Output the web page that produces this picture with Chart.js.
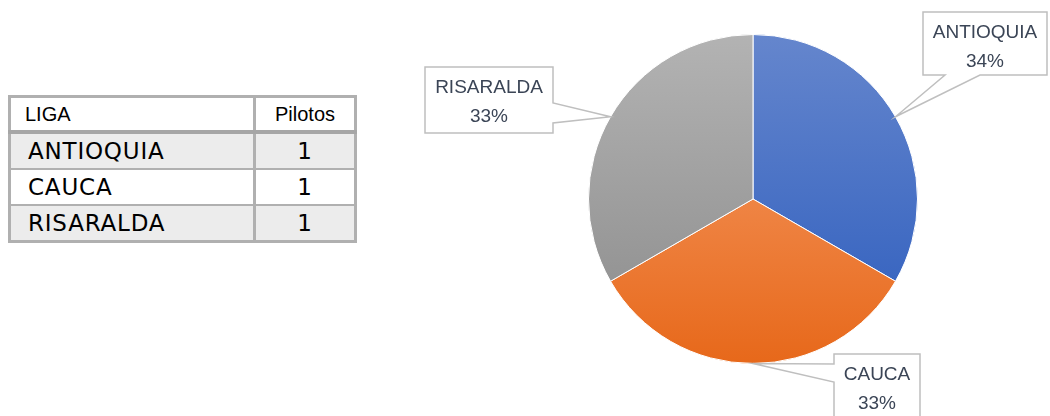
<!DOCTYPE html>
<html>
<head>
<meta charset="utf-8">
<script src="https://cdn.jsdelivr.net/npm/chart.js@4/dist/chart.umd.min.js"></script>
<style>
  html, body { margin: 0; padding: 0; background: #ffffff; }
  #wrap { position: relative; width: 1050px; height: 416px; overflow: hidden; }
  #pie { position: absolute; left: 0; top: 0; }
  #tabla {
    position: absolute; left: 8px; top: 95px;
    border-collapse: collapse; font-family: "DejaVu Sans", sans-serif; color: #000;
    border: 3px solid #b0b0b0;
  }
  #tabla td, #tabla th { border: 2px solid #b0b0b0; padding: 0; }
  #tabla .c1 { border-right: 3px solid #b0b0b0; }
  #tabla th {
    font-family: "Liberation Sans", Arial, sans-serif;
    font-weight: normal; font-size: 20px; height: 32px; background: #fff;
    border-bottom: 4px solid #a6a6a6;
  }
  #tabla th.c1 { text-align: left; padding-left: 14px; width: 228px; }
  #tabla th.c2 { text-align: center; width: 98px; }
  #tabla td { font-size: 23px; letter-spacing: 0.8px; height: 34px; }
  #tabla td.c1 { padding-left: 17px; }
  #tabla td.c2 { text-align: center; }
  #tabla tr.odd td { background: #ececec; }
</style>
</head>
<body>
<div id="wrap">
  <table id="tabla"><thead></thead><tbody></tbody></table>
  <canvas id="pie" width="1050" height="416"></canvas>
</div>
<script>
// Pilotos por liga
const headers = ['LIGA', 'Pilotos'];
const ligas = ['ANTIOQUIA', 'CAUCA', 'RISARALDA'];
const pilotos = [1, 1, 1];
const percentLabels = ['34%', '33%', '33%'];

// gradient stops per slice (top -> bottom of the pie)
const sliceColors = [
  ['#6586cd', '#2c5cbd'],
  ['#f7a16f', '#e7681a'],
  ['#b3b3b3', '#8a8a8a']
];

let pieChart = null;

document.addEventListener('DOMContentLoaded', () => {
  buildTable();
  renderPie();
});

function buildTable() {
  const thead = document.querySelector('#tabla thead');
  const tbody = document.querySelector('#tabla tbody');
  const hr = document.createElement('tr');
  headers.forEach((h, i) => {
    const th = document.createElement('th');
    th.className = i === 0 ? 'c1' : 'c2';
    th.textContent = h;
    hr.appendChild(th);
  });
  thead.appendChild(hr);

  ligas.forEach((liga, i) => {
    const tr = document.createElement('tr');
    if (i % 2 === 0) tr.className = 'odd';
    const a = document.createElement('td');
    a.className = 'c1';
    a.textContent = liga;
    const b = document.createElement('td');
    b.className = 'c2';
    b.textContent = pilotos[i];
    tr.appendChild(a);
    tr.appendChild(b);
    tbody.appendChild(tr);
  });
}

function sliceGradient(context) {
  const chart = context.chart;
  const area = chart.chartArea;
  const stops = sliceColors[context.dataIndex % sliceColors.length];
  if (!area) return stops[0];
  const g = chart.ctx.createLinearGradient(0, area.top, 0, area.bottom);
  g.addColorStop(0, stops[0]);
  g.addColorStop(1, stops[1]);
  return g;
}

// callout boxes (box rect + which side the pointer leaves from)
const calloutLayout = [
  { box: [923, 12, 1047, 75], side: 'bottom', base: [945, 980] },
  { box: [834, 354, 920, 440], side: 'left', base: [364, 382] },
  { box: [425, 67, 553, 133], side: 'right', base: [103, 123] }
];

const calloutPlugin = {
  id: 'callouts',
  afterDatasetsDraw(chart) {
    const ctx = chart.ctx;
    const meta = chart.getDatasetMeta(0);
    meta.data.forEach((arc, i) => {
      const p = arc.getProps(['x', 'y', 'startAngle', 'endAngle', 'outerRadius'], true);
      const mid = (p.startAngle + p.endAngle) / 2;
      const tip = [p.x + Math.cos(mid) * p.outerRadius, p.y + Math.sin(mid) * p.outerRadius];
      const c = calloutLayout[i];
      const [l, t, r, b] = c.box;
      ctx.save();
      ctx.beginPath();
      if (c.side === 'bottom') {
        ctx.moveTo(l, t); ctx.lineTo(r, t); ctx.lineTo(r, b);
        ctx.lineTo(c.base[1], b); ctx.lineTo(tip[0], tip[1]); ctx.lineTo(c.base[0], b);
        ctx.lineTo(l, b);
      } else if (c.side === 'left') {
        ctx.moveTo(l, t); ctx.lineTo(r, t); ctx.lineTo(r, b); ctx.lineTo(l, b);
        ctx.lineTo(l, c.base[1]); ctx.lineTo(tip[0], tip[1]); ctx.lineTo(l, c.base[0]);
      } else {
        ctx.moveTo(l, t); ctx.lineTo(r, t); ctx.lineTo(r, c.base[0]);
        ctx.lineTo(tip[0], tip[1]); ctx.lineTo(r, c.base[1]);
        ctx.lineTo(r, b); ctx.lineTo(l, b);
      }
      ctx.closePath();
      ctx.fillStyle = '#ffffff';
      ctx.fill();
      ctx.lineWidth = 1.5;
      ctx.strokeStyle = '#bfbfbf';
      ctx.stroke();

      ctx.fillStyle = '#3b4556';
      ctx.font = '19px "Liberation Sans", sans-serif';
      ctx.textAlign = 'center';
      ctx.textBaseline = 'middle';
      const cx = (l + r) / 2;
      ctx.fillText(chart.data.labels[i], cx, t + 20.5);
      ctx.fillText(percentLabels[i], cx, t + 50);
      ctx.restore();
    });
  }
};

function renderPie() {
  const ctx = document.getElementById('pie');
  pieChart = new Chart(ctx, {
    type: 'pie',
    data: {
      labels: ligas,
      datasets: [{
        data: pilotos,
        backgroundColor: sliceGradient,
        borderColor: '#ffffff',
        borderWidth: 1
      }]
    },
    options: {
      responsive: false,
      animation: false,
      layout: { padding: { left: 588, right: 132, top: 34, bottom: 52 } },
      plugins: {
        legend: { display: false },
        tooltip: { enabled: false }
      }
    },
    plugins: [calloutPlugin]
  });
}
</script>
</body>
</html>
